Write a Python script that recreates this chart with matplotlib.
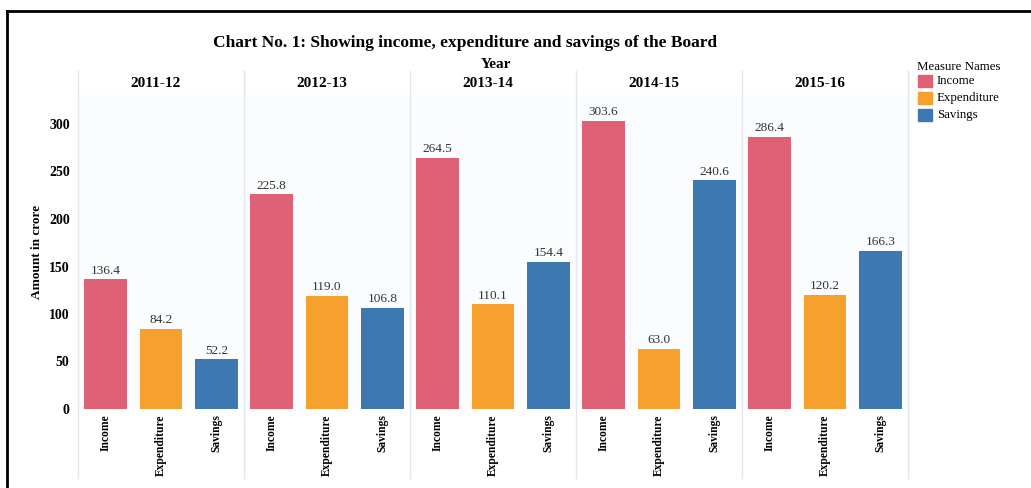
import matplotlib
matplotlib.use('Agg')
import matplotlib.pyplot as plt
from matplotlib.lines import Line2D
from matplotlib.patches import Rectangle

years = ['2011-12', '2012-13', '2013-14', '2014-15', '2015-16']
measures = ['Income', 'Expenditure', 'Savings']
income = [136.4, 225.8, 264.5, 303.6, 286.4]
expenditure = [84.2, 119.0, 110.1, 63.0, 120.2]
savings = [52.2, 106.8, 154.4, 240.6, 166.3]
colors = ['#df6175', '#f6a02d', '#3e78b2']

W, H = 1031, 488
plt.rcParams['font.family'] = ['Liberation Serif', 'DejaVu Serif']

fig = plt.figure(figsize=(W / 100, H / 100), dpi=100)
fig.patch.set_facecolor('white')

# pixel box of the bar pane
left, right, top, bottom = 78, 908, 95, 409
ax = fig.add_axes([left / W, 1 - bottom / H, (right - left) / W, (bottom - top) / H])
ax.set_facecolor('#fafcfe')

series = [income, expenditure, savings]
for i, yr in enumerate(years):
    for j, vals in enumerate(series):
        x = i * 3 + j
        v = vals[i]
        ax.bar(x, v, width=0.77, color=colors[j], zorder=2)
        ax.text(x, v + 3, '%.1f' % v, ha='center', va='bottom',
                fontsize=9.5, color='#333333')

ax.set_xlim(-0.5, 14.5)
ax.set_ylim(0, (bottom - top) / 0.95)
ax.set_yticks(range(0, 301, 50))
ax.set_yticklabels([str(t) for t in range(0, 301, 50)], fontweight='bold', fontsize=10)
ax.set_xticks(range(15))
ax.set_xticklabels(measures * 5, rotation=90, fontsize=8.3, fontweight='bold')
ax.tick_params(axis='y', length=0, pad=6)
ax.tick_params(axis='x', length=0, pad=4)
for s in ax.spines.values():
    s.set_visible(False)

# panel separators
for k in range(6):
    ax.axvline(k * 3 - 0.5, ymin=-0.22, ymax=1.075, color='#e3e6ea', lw=1,
               clip_on=False, zorder=1)

# column headers
for i, yr in enumerate(years):
    ax.text(i * 3 + 0.9, 1.037, yr, transform=ax.get_xaxis_transform(),
            ha='center', va='center', fontsize=11, fontweight='bold')

ax.set_ylabel('Amount in crore', fontsize=9.5, fontweight='bold', labelpad=4)

fig.text(465 / W, 1 - 43 / H, 'Chart No. 1: Showing income, expenditure and savings of the Board',
         ha='center', va='center', fontsize=12.5, fontweight='bold')
fig.text(496 / W, 1 - 64 / H, 'Year', ha='center', va='center',
         fontsize=11, fontweight='bold')

# legend
fig.text(917 / W, 1 - 67 / H, 'Measure Names', ha='left', va='center', fontsize=9.3)
for j, m in enumerate(measures):
    yc = 81 + j * 17
    fig.add_artist(Rectangle((918 / W, 1 - (yc + 6) / H), 14 / W, 12 / H,
                             transform=fig.transFigure, color=colors[j]))
    fig.text(937 / W, 1 - yc / H, m, ha='left', va='center', fontsize=9.3)

# outer frame, left and top edges
fy = 1 - 11 / H
fx = 7 / W
fig.add_artist(Line2D([fx, fx], [0, fy], color='black', lw=2))
fig.add_artist(Line2D([fx, 1], [fy, fy], color='black', lw=2))

fig.savefig('out.png', dpi=100)
